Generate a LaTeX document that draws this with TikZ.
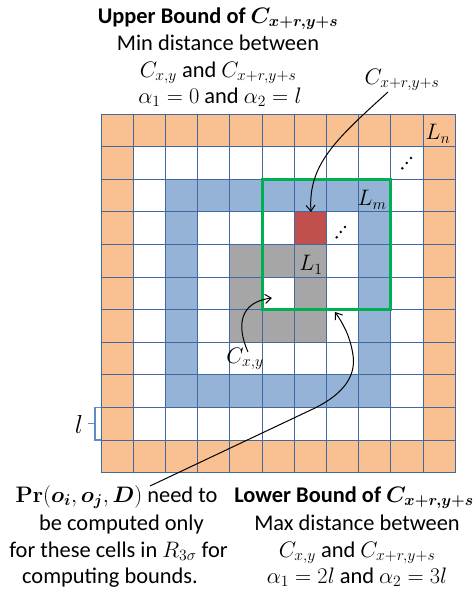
\RequirePackage{fix-cm}
\documentclass[tikz,border=0pt]{standalone}
\usepackage{amsmath}
\usepackage{bm}
\usepackage[no-math]{fontspec}
\setmainfont{Carlito}
\usetikzlibrary{arrows.meta}
\definecolor{gridl}{RGB}{65,105,160}
\definecolor{orangef}{RGB}{249,193,145}
\definecolor{bluef}{RGB}{149,179,215}
\definecolor{grayf}{RGB}{166,166,166}
\definecolor{redf}{RGB}{192,80,77}
\definecolor{greenl}{RGB}{0,176,80}
\definecolor{brack}{RGB}{91,140,200}
\newcommand\cellrect[5]{\fill[#1] ({101+#2*32.2},{114+#3*32.6}) rectangle ({101+(#4+1)*32.2},{114+(#5+1)*32.6});}
\begin{document}
\begin{tikzpicture}[x=1pt,y=-1pt,
  txt/.style={anchor=base,inner sep=0pt,font=\fontsize{22.4}{27}\selectfont},
  lbl/.style={anchor=center,inner sep=0pt,font=\fontsize{22.4}{27}\selectfont},
  arr/.style={-{Straight Barb[length=6pt,width=9pt]},line width=1pt},
  dotc/.style={fill=black}]
\useasboundingbox (0,0) rectangle (475,600);
% cells
\cellrect{orangef}{0}{0}{10}{10}
\cellrect{white}{1}{1}{9}{9}
\cellrect{bluef}{2}{2}{8}{8}
\cellrect{white}{3}{3}{7}{7}
\cellrect{grayf}{4}{4}{6}{6}
\cellrect{white}{5}{5}{5}{5}
\cellrect{redf}{6}{3}{6}{3}
% grid lines
\foreach \i in {0,...,11} {
  \draw[gridl,line width=0.9pt] ({101+\i*32.2},114) -- ({101+\i*32.2},472.6);
  \draw[gridl,line width=0.9pt] (101,{114+\i*32.6}) -- (455.2,{114+\i*32.6});
}
% green square
\draw[greenl,line width=3pt] ({101+5*32.2},{114+2*32.6}) rectangle ({101+9*32.2},{114+6*32.6});
% labels in cells
\node[lbl] (ln) at (438,134) {$L_n$};
\node[lbl] (lm) at (372,200) {$L_m$};
\node[lbl] (l1) at (311,265) {$L_1$};
% dots
\fill[dotc] (402.3,168.3) circle (1.4) (406.7,163) circle (1.4) (411,158) circle (1.4);
\fill[dotc] (336.7,237.3) circle (1.4) (340.7,232) circle (1.4) (345,227) circle (1.4);
% bracket l
\draw[brack,line width=1.1pt] (101,407.4) -- (95,407.4) -- (95,440) -- (101,440);
\coordinate (brm) at (95,423.7);
\coordinate (brt) at (88,423.7);
\draw[brack,line width=1.1pt] (brm) -- (brt);
\node[lbl,font=\fontsize{26}{30}\selectfont] (ell) at (79,424) {$l$};
% top text
\node[txt] (t1) at (218,23) {\textbf{Upper Bound of} $\bm{C_{x+r,y+s}}$};
\node[txt] (t2) at (218,50) {Min distance between};
\node[txt] (t3) at (218,77) {$C_{x,y}$ and $C_{x+r,y+s}$};
\node[txt] (t4) at (220,103) {$\alpha_1=0$ and $\alpha_2=l$};
% cell labels with arrows
\node[lbl] (cxrys) at (402,80) {$C_{x+r,y+s}$};
\node[lbl] (cxy) at (245,359) {$C_{x,y}$};
\coordinate (a1s) at (388,92);
\coordinate (redtop) at (311,212);
\draw[arr] (a1s) .. controls (335,140) and (308,165) .. (redtop);
\coordinate (a2s) at (248,352);
\coordinate (cxyend) at (272,298);
\draw[arr] (a2s) .. controls (236,325) and (240,302) .. (cxyend);
% bottom-left text
\node[txt] (b1) at (116.5,502) {$\mathbf{Pr}(\bm{o_i},\bm{o_j},\bm{D})$ need to};
\node[txt] (b2) at (121.5,530) {be computed only};
\node[txt] (b3) at (118.5,557) {for these cells in $R_{3\sigma}$ for};
\node[txt] (b4) at (110,583) {computing bounds.};
% bottom-right text
\node[txt] (r1) at (354,502) {\textbf{Lower Bound of} $\bm{C_{x+r,y+s}}$};
\node[txt] (r2) at (357,530) {Max distance between};
\node[txt] (r3) at (357,557) {$C_{x,y}$ and $C_{x+r,y+s}$};
\node[txt] (r4) at (357,583) {$\alpha_1=2l$ and $\alpha_2=3l$};
% long arrow
\coordinate (a3s) at (150,486);
\coordinate (a3m) at (315,408);
\coordinate (greenbot) at (335,312);
\draw[arr] (a3s) -- (a3m) .. controls (345,393) and (356,375) .. (353,355) .. controls (350,335) and (342,322) .. (greenbot);
\end{tikzpicture}
\end{document}
